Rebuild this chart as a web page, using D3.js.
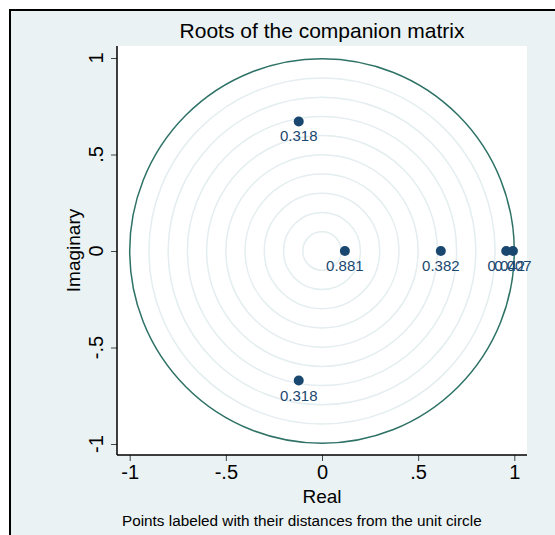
<!DOCTYPE html>
<html lang="en">
<head>
	<meta charset="utf-8">
	<title>Roots of the companion matrix</title>
	<script src="https://d3js.org/d3.v7.min.js"></script>
	<style>
		body { margin: 0; background: #ffffff; }
		text { font-family: "Liberation Sans", Arial, sans-serif; }
	</style>
</head>
<body>
<div id="chart"></div>
<script>
	// roots of the companion matrix (real, imaginary) and their labels
	var rootReal = [0.119, 0.618, -0.121, -0.121, 0.958, 0.993];
	var rootImag = [0, 0, 0.671, -0.671, 0, 0];
	var rootLabels = ["0.881", "0.382", "0.318", "0.318", "0.042", "0.007"];

	var tickValues = [-1, -0.5, 0, 0.5, 1];
	var tickLabels = ["-1", "-.5", "0", ".5", "1"];
	var gridRadii = [0.1, 0.2, 0.3, 0.4, 0.5, 0.6, 0.7, 0.8, 0.9];

	var w = 555, h = 535;

	// plot region
	var pLeft = 117, pRight = 527, pTop = 46, pBottom = 455;

	var x = d3.scaleLinear().domain([-1, 1]).range([129.7, 514.3]);
	var y = d3.scaleLinear().domain([-1, 1]).range([444, 58]);

	var svg = d3.select("#chart")
		.append("svg")
		.attr("width", w)
		.attr("height", h);

	// outer graph region with frame
	svg.append("rect")
		.attr("x", 10)
		.attr("y", 10)
		.attr("width", 580)
		.attr("height", 560)
		.attr("fill", "#eaf2f3")
		.attr("stroke", "#000")
		.attr("stroke-width", 2);

	svg.append("rect")
		.attr("x", pLeft)
		.attr("y", pTop)
		.attr("width", pRight - pLeft)
		.attr("height", pBottom - pTop)
		.attr("fill", "#fff");

	var plot = svg.append("g");

	// concentric reference circles
	plot.selectAll("circle.grid")
		.data(gridRadii)
		.enter()
		.append("circle")
		.attr("class", "grid")
		.attr("cx", x(0))
		.attr("cy", y(0))
		.attr("r", function(d){ return x(d) - x(0); })
		.attr("fill", "none")
		.attr("stroke", "#e4edef")
		.attr("stroke-width", 1.5);

	// unit circle
	plot.append("circle")
		.attr("cx", x(0))
		.attr("cy", y(0))
		.attr("r", x(1) - x(0))
		.attr("fill", "none")
		.attr("stroke", "#2e7266")
		.attr("stroke-width", 1.5);

	var roots = rootReal.map(function(d, i){
		return { re: d, im: rootImag[i], label: rootLabels[i] };
	});

	plot.selectAll("circle.root")
		.data(roots)
		.enter()
		.append("circle")
		.attr("class", "root")
		.attr("cx", function(d){ return x(d.re); })
		.attr("cy", function(d){ return y(d.im); })
		.attr("r", 5)
		.attr("fill", "#1a476f");

	plot.selectAll("text.lab")
		.data(roots)
		.enter()
		.append("text")
		.attr("class", "lab")
		.attr("x", function(d){ return x(d.re); })
		.attr("y", function(d){ return y(d.im) + 20; })
		.attr("text-anchor", "middle")
		.attr("font-size", "15px")
		.attr("fill", "#1a476f")
		.text(function(d){ return d.label; });

	// x axis
	var xAxis = svg.append("g")
		.attr("transform", "translate(0," + pBottom + ")")
		.call(d3.axisBottom(x)
			.tickValues(tickValues)
			.tickFormat(function(d, i){ return tickLabels[i]; })
			.tickSize(6)
			.tickPadding(4));
	xAxis.select(".domain").remove();
	xAxis.selectAll("text")
		.attr("font-size", "20px")
		.attr("fill", "#000")
		.attr("font-family", "'Liberation Sans', Arial, sans-serif");
	xAxis.selectAll(".tick line").attr("stroke", "#444");

	svg.append("line")
		.attr("x1", pLeft)
		.attr("x2", pRight)
		.attr("y1", pBottom)
		.attr("y2", pBottom)
		.attr("stroke", "#000")
		.attr("stroke-width", 1.5);

	// y axis
	var yAxis = svg.append("g")
		.attr("transform", "translate(" + pLeft + ",0)")
		.call(d3.axisLeft(y)
			.tickValues(tickValues)
			.tickFormat("")
			.tickSize(6));
	yAxis.select(".domain").remove();
	yAxis.selectAll(".tick line").attr("stroke", "#444");

	svg.selectAll("text.ytick")
		.data(tickValues)
		.enter()
		.append("text")
		.attr("class", "ytick")
		.attr("transform", function(d){ return "translate(103," + y(d) + ") rotate(-90)"; })
		.attr("text-anchor", "middle")
		.attr("font-size", "20px")
		.attr("fill", "#000")
		.text(function(d, i){ return tickLabels[i]; });

	svg.append("line")
		.attr("x1", pLeft)
		.attr("x2", pLeft)
		.attr("y1", pTop)
		.attr("y2", pBottom)
		.attr("stroke", "#000")
		.attr("stroke-width", 1.5);

	// titles
	svg.append("text")
		.attr("x", (pLeft + pRight) / 2)
		.attr("y", 38)
		.attr("text-anchor", "middle")
		.attr("font-size", "21px")
		.text("Roots of the companion matrix");

	svg.append("text")
		.attr("x", (pLeft + pRight) / 2)
		.attr("y", 503)
		.attr("text-anchor", "middle")
		.attr("font-size", "19px")
		.text("Real");

	svg.append("text")
		.attr("transform", "translate(80," + (pTop + pBottom) / 2 + ") rotate(-90)")
		.attr("text-anchor", "middle")
		.attr("font-size", "19px")
		.text("Imaginary");

	svg.append("text")
		.attr("x", 122)
		.attr("y", 526)
		.attr("font-size", "15.3px")
		.text("Points labeled with their distances from the unit circle");
</script>
</body>
</html>
